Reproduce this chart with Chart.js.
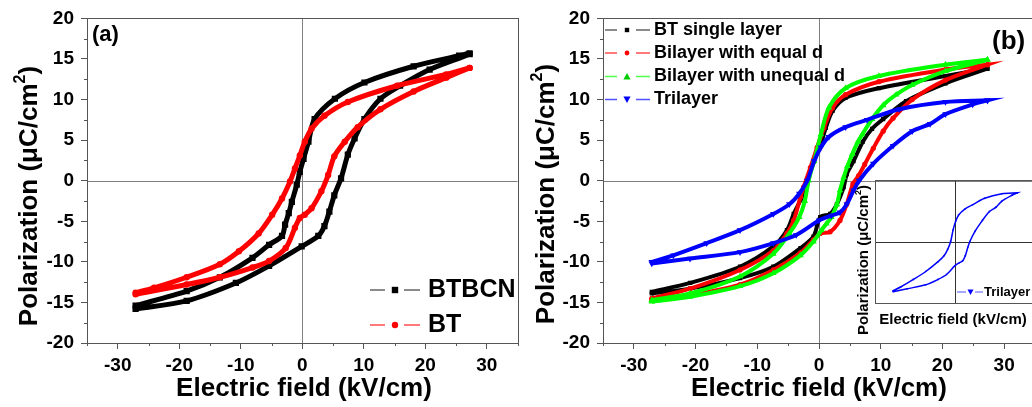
<!DOCTYPE html>
<html>
<head>
<meta charset="utf-8">
<title>Ciclos de polarización</title>
<script src="https://cdn.jsdelivr.net/npm/chart.js@4.4.0/dist/chart.umd.min.js"></script>
<style>
  html, body { margin: 0; padding: 0; background: #fff; overflow: hidden; }
  #hoja { position: relative; width: 1032px; height: 407px; overflow: hidden; }
  canvas { position: absolute; }
  #graficoA { left: 0; top: 0; }
  #graficoB { left: 522px; top: 0; }
  #inserto { left: 845px; top: 170px; }
</style>
</head>
<body>
<div id="hoja">
  <canvas id="graficoA" width="522" height="407"></canvas>
  <canvas id="graficoB" width="530" height="407"></canvas>
  <canvas id="inserto" width="200" height="180"></canvas>
</div>
<script>
// ================= DATOS =================
// cada ciclo: rama de subida (-Emax -> +Emax) y luego rama de bajada
// panel (a)
const btbcnE = [-27.1, -18.8, -10.8, -5.4, -0.1, 2.6, 3.6, 4.4, 5.2, 6.3, 7.4, 8.5, 10.1, 12.7, 15.9, 20.7, 27.2,
                27.2, 25.5, 18.1, 10.1, 5.3, 2.0, 1.0, 0.2, -0.4, -0.9, -1.7, -2.2, -2.8, -3.3, -5.4, -8.1, -13.4, -18.8, -27.1];
const btbcnP = [-15.8, -14.8, -12.6, -10.5, -8.1, -6.8, -5.6, -3.8, -1.8, 0.3, 3.2, 5.2, 7.6, 10.1, 11.7, 13.7, 15.6,
                15.7, 15.4, 14.1, 12.1, 10.1, 7.6, 4.8, 2.7, 1.1, -0.5, -2.6, -4.0, -5.4, -6.8, -7.9, -9.5, -11.9, -13.6, -15.4];

const btE = [-27.1, -18.8, -13.4, -8.1, -5.4, -2.7, -1.2, -0.4, 0.4, 1.5, 3.1, 4.2, 5.2, 6.9, 9.0, 12.7, 18.1, 23.4, 27.2,
             27.2, 23.4, 15.4, 7.4, 3.6, 1.5, 0.4, -0.4, -1.2, -2.0, -3.3, -4.9, -7.1, -10.3, -13.4, -18.8, -24.1, -27.1];
const btP = [-14.0, -12.8, -11.9, -10.7, -9.9, -8.3, -5.8, -4.6, -4.2, -3.4, -1.3, 0.7, 3.0, 4.8, 6.6, 8.8, 11.0, 12.7, 13.9,
             13.9, 13.1, 11.7, 9.7, 8.0, 6.4, 4.8, 3.1, 1.5, -0.1, -2.2, -4.2, -6.5, -8.7, -10.3, -11.9, -13.2, -13.8];

// panel (b)
const simpleE = [-27.1, -20.9, -12.8, -7.4, -3.0, -0.9, 0.2, 1.8, 2.9, 4.0, 4.5, 5.6, 7.1, 8.6, 10.4, 14.1, 20.5, 27.3,
                 27.3, 20.5, 9.7, 4.3, 2.2, 1.1, 0.3, -0.8, -1.6, -2.0, -3.0, -4.1, -5.2, -7.4, -12.8, -20.9, -27.1];
const simpleP = [-13.9, -13.3, -12.0, -10.6, -8.3, -6.9, -4.5, -4.1, -2.9, -0.8, 0.8, 2.4, 4.8, 6.4, 7.6, 9.8, 12.0, 13.8,
                 13.8, 12.9, 11.4, 10.2, 8.6, 6.5, 4.5, 2.4, 0.6, -0.8, -2.4, -4.1, -6.1, -8.1, -10.6, -12.6, -13.7];

const igualE = [-27.1, -20.9, -12.8, -7.4, -3.0, -0.9, 0.2, 1.8, 3.4, 4.5, 5.5, 6.4, 7.4, 8.8, 10.4, 12.0, 15.1, 20.5, 27.3,
                27.3, 20.5, 9.7, 4.3, 2.2, 0.8, -0.3, -1.4, -2.5, -3.0, -4.1, -5.2, -7.4, -12.8, -20.9, -27.1];
const igualP = [-14.7, -14.1, -12.8, -11.0, -8.9, -7.3, -6.5, -6.3, -4.9, -2.9, -0.4, 0.6, 2.0, 4.0, 6.1, 7.7, 10.0, 12.4, 14.3,
                14.3, 13.7, 12.2, 10.6, 9.0, 6.5, 4.1, 1.6, -0.8, -2.0, -4.9, -6.5, -8.6, -11.0, -13.3, -14.5];

const desigualE = [-27.1, -20.9, -12.8, -7.4, -3.0, -0.9, 0.4, 1.2, 2.0, 2.9, 3.4, 4.0, 4.6, 5.4, 6.3, 7.0, 8.6, 10.4, 12.5, 15.1, 20.5, 27.3,
                   27.3, 20.5, 9.7, 4.3, 1.6, 0.3, -0.8, -1.7, -2.3, -3.2, -4.8, -7.4, -12.8, -20.9, -27.1];
const desigualP = [-14.9, -14.3, -13.0, -11.4, -9.2, -7.5, -6.1, -5.3, -4.5, -2.9, -1.2, 0.4, 1.8, 3.3, 4.8, 5.7, 7.6, 9.3, 10.6, 11.8, 13.5, 14.9,
                   14.9, 14.3, 12.9, 11.4, 9.0, 5.7, 2.4, 0.0, -2.5, -4.5, -6.5, -9.0, -11.8, -13.9, -14.7];

const triE = [-27.1, -20.9, -12.8, -7.4, -3.7, 0.0, 2.0, 3.4, 4.5, 5.6, 6.5, 8.8, 12.0, 15.1, 18.0, 20.5, 24.9, 27.3,
              27.3, 20.5, 13.0, 7.8, 4.3, 1.6, 0.3, -0.8, -1.9, -3.2, -4.8, -7.4, -12.8, -18.2, -23.6, -27.1];
const triP = [-10.2, -9.6, -8.8, -7.7, -6.7, -4.9, -4.3, -3.9, -2.9, -1.2, 0.0, 2.1, 4.3, 6.1, 7.0, 8.2, 9.4, 9.9,
              9.9, 9.7, 8.8, 7.5, 6.6, 5.4, 4.1, 2.4, 0.0, -1.6, -2.9, -4.1, -6.1, -7.7, -9.2, -10.0];

const ejeXTicks = [-30, -20, -10, 0, 10, 20, 30];
const ejeXMenores = [-35, -25, -15, -5, 5, 15, 25, 35];
const ejeYTicks = [-20, -15, -10, -5, 0, 5, 10, 15, 20];
const ejeYMenores = [-17.5, -12.5, -7.5, -2.5, 2.5, 7.5, 12.5, 17.5];

const FUENTE = "'Liberation Sans', Arial, sans-serif";
const GRIS_EJE = "#555";

// ================= FUNCIONES UTILES =================
function puntos(E, P) {
  return E.map((e, i) => ({ x: e, y: P[i] }));
}

function marca(ctx, estilo, x, y, r) {
  ctx.beginPath();
  if (estilo === "rect") ctx.rect(x - r, y - r, 2 * r, 2 * r);
  else if (estilo === "circle") ctx.arc(x, y, r, 0, Math.PI * 2);
  else if (estilo === "up") { ctx.moveTo(x, y - r); ctx.lineTo(x + r, y + r * 0.8); ctx.lineTo(x - r, y + r * 0.8); ctx.closePath(); }
  else { ctx.moveTo(x, y + r); ctx.lineTo(x + r, y - r * 0.8); ctx.lineTo(x - r, y - r * 0.8); ctx.closePath(); }
  ctx.fill();
}

// titulo vertical con superindice en cm2
function tituloY(ctx, cx, cy, size) {
  const base = "Polarization (\u03bcC/cm", sup = "2", fin = ")";
  ctx.save();
  ctx.translate(cx, cy);
  ctx.rotate(-Math.PI / 2);
  ctx.fillStyle = "#000";
  ctx.textBaseline = "middle";
  ctx.textAlign = "left";
  const fb = "bold " + size + "px " + FUENTE, fs = "bold " + Math.round(size * 0.62) + "px " + FUENTE;
  ctx.font = fb; const w1 = ctx.measureText(base).width, w3 = ctx.measureText(fin).width;
  ctx.font = fs; const w2 = ctx.measureText(sup).width;
  let x = -(w1 + w2 + w3) / 2;
  ctx.font = fb; ctx.fillText(base, x, 0); x += w1;
  ctx.font = fs; ctx.fillText(sup, x, -size * 0.38); x += w2;
  ctx.font = fb; ctx.fillText(fin, x, 0);
  ctx.restore();
}

function texto(ctx, t, x, y, size, align) {
  ctx.save();
  ctx.fillStyle = "#000";
  ctx.font = "bold " + size + "px " + FUENTE;
  ctx.textBaseline = "middle";
  ctx.textAlign = align || "left";
  ctx.fillText(t, x, y);
  ctx.restore();
}

// plugin: lineas de cero, marco, ticks menores, titulos y leyenda
function decoracion(cfg) {
  return {
    id: "deco",
    beforeDatasetsDraw(chart) {
      const { ctx, chartArea: a, scales: { x, y } } = chart;
      ctx.save();
      ctx.lineWidth = 1;
      ctx.strokeStyle = cfg.cero;
      const x0 = Math.round(x.getPixelForValue(0)) + 0.5;
      const y0 = Math.round(y.getPixelForValue(0)) + 0.5;
      ctx.beginPath();
      ctx.moveTo(x0, a.top); ctx.lineTo(x0, a.bottom);
      ctx.moveTo(a.left, y0); ctx.lineTo(a.right, y0);
      ctx.stroke();
      ctx.strokeStyle = GRIS_EJE;
      ctx.strokeRect(Math.round(a.left) + 0.5, Math.round(a.top) + 0.5, Math.round(a.right - a.left), Math.round(a.bottom - a.top));
      if (cfg.menores) {
        ctx.beginPath();
        ejeXMenores.forEach(v => {
          const px = Math.round(x.getPixelForValue(v)) + 0.5;
          ctx.moveTo(px, a.bottom); ctx.lineTo(px, a.bottom + 3);
        });
        ejeYMenores.forEach(v => {
          const py = Math.round(y.getPixelForValue(v)) + 0.5;
          ctx.moveTo(a.left - 3, py); ctx.lineTo(a.left, py);
        });
        ctx.stroke();
      }
      ctx.restore();
    },
    afterDraw(chart) {
      const ctx = chart.ctx;
      tituloY(ctx, cfg.tituloY[0], cfg.tituloY[1], cfg.tamTitulo);
      texto(ctx, "Electric field (kV/cm)", cfg.tituloX[0], cfg.tituloX[1], cfg.tamTitulo, "center");
      if (cfg.etiqueta) texto(ctx, cfg.etiqueta.t, cfg.etiqueta.x, cfg.etiqueta.y, cfg.etiqueta.size);
      const L = cfg.leyenda;
      L.filas.forEach(f => {
        ctx.save();
        ctx.strokeStyle = f.linea;
        ctx.lineWidth = L.grosor;
        ctx.beginPath();
        ctx.moveTo(L.seg[0], f.y); ctx.lineTo(L.seg[1], f.y);
        ctx.moveTo(L.seg[2], f.y); ctx.lineTo(L.seg[3], f.y);
        ctx.stroke();
        ctx.fillStyle = f.color;
        marca(ctx, f.estilo, L.xm, f.y, f.r);
        ctx.restore();
        texto(ctx, f.t, L.xt, f.y, L.size);
      });
    }
  };
}

function escalas(anchoY, altoX, ymin, ymax, conTicks) {
  const marcaEje = {
    display: conTicks, drawOnChartArea: false, drawTicks: true, tickLength: 6, color: GRIS_EJE, lineWidth: 1
  };
  const fuenteTicks = { family: FUENTE, size: 19, weight: "bold" };
  return {
    x: {
      type: "linear", min: -35, max: 35,
      afterBuildTicks: s => { s.ticks = ejeXTicks.map(v => ({ value: v })); },
      afterFit: s => { s.height = altoX; },
      grid: marcaEje,
      border: { display: conTicks, color: GRIS_EJE, width: 1 },
      ticks: { display: conTicks, color: "#000", font: fuenteTicks, padding: 5, maxRotation: 0 }
    },
    y: {
      type: "linear", min: ymin, max: ymax,
      afterBuildTicks: s => { s.ticks = ejeYTicks.map(v => ({ value: v })); },
      afterFit: s => { s.width = anchoY; },
      grid: marcaEje,
      border: { display: conTicks, color: GRIS_EJE, width: 1 },
      ticks: { display: conTicks, color: "#000", font: fuenteTicks, padding: 7 }
    }
  };
}

function serie(etiqueta, E, P, color, estilo, radio, grosor, orden, rot) {
  return {
    label: etiqueta,
    data: puntos(E, P),
    showLine: true,
    borderColor: color,
    backgroundColor: color,
    borderWidth: grosor,
    tension: 0.3,
    pointStyle: estilo,
    pointRotation: rot || 0,
    pointRadius: radio,
    pointBorderWidth: 0,
    order: orden
  };
}

const base = {
  responsive: false,
  animation: false,
  events: [],
  plugins: { legend: { display: false }, tooltip: { enabled: false } }
};

// ================= PANEL (a) =================
new Chart(document.getElementById("graficoA").getContext("2d"), {
  type: "scatter",
  data: {
    datasets: [
      serie("BT", btE, btP, "#ff0000", "circle", 3.2, 5, 1),
      serie("BTBCN", btbcnE, btbcnP, "#000000", "rect", 4.4, 5, 2)
    ]
  },
  options: Object.assign({}, base, {
    layout: { padding: { top: 16, right: 1, left: 0, bottom: 0 } },
    scales: escalas(87, 64, -20, 20, true)
  }),
  plugins: [decoracion({
    cero: "#808080", menores: true, tamTitulo: 26,
    tituloY: [30, 196], tituloX: [304, 389],
    etiqueta: { t: "(a)", x: 92, y: 35, size: 22 },
    leyenda: {
      seg: [370, 385, 404, 420], xm: 395, xt: 428, size: 25, grosor: 1.5,
      filas: [
        { t: "BTBCN", color: "#000", linea: "#666", estilo: "rect", r: 3.2, y: 290 },
        { t: "BT", color: "#f00", linea: "#ff5050", estilo: "circle", r: 3.2, y: 325 }
      ]
    }
  })]
});

// ================= PANEL (b) =================
new Chart(document.getElementById("graficoB").getContext("2d"), {
  type: "scatter",
  data: {
    datasets: [
      serie("BT single layer", simpleE, simpleP, "#000000", "rect", 3, 4, 4),
      serie("Bilayer with equal d", igualE, igualP, "#ff0000", "circle", 2.6, 4, 3),
      serie("Bilayer with unequal d", desigualE, desigualP, "#00ff00", "triangle", 3.8, 4, 2),
      serie("Trilayer", triE, triP, "#0000ff", "triangle", 3.8, 4, 1, 180)
    ]
  },
  options: Object.assign({}, base, {
    layout: { padding: { top: 17, right: 17, left: 0, bottom: 0 } },
    scales: escalas(81, 64, -20, 20, true)
  }),
  plugins: [decoracion({
    cero: "#808080", menores: true, tamTitulo: 26,
    tituloY: [25, 194], tituloX: [297, 389],
    etiqueta: { t: "(b)", x: 470, y: 42, size: 26 },
    leyenda: {
      seg: [83, 95, 114, 128], xm: 105, xt: 132, size: 18, grosor: 1.5,
      filas: [
        { t: "BT single layer", color: "#000", linea: "#666", estilo: "rect", r: 2.2, y: 30 },
        { t: "Bilayer with equal d", color: "#f00", linea: "#ff5050", estilo: "circle", r: 2.4, y: 53 },
        { t: "Bilayer with unequal d", color: "#0c0", linea: "#50ff50", estilo: "up", r: 3.6, y: 76.5 },
        { t: "Trilayer", color: "#00f", linea: "#5050ff", estilo: "down", r: 3.6, y: 99.5 }
      ]
    }
  })]
});

// ================= INSERTO (trilayer) =================
new Chart(document.getElementById("inserto").getContext("2d"), {
  type: "scatter",
  data: {
    datasets: [serie("Trilayer", triE, triP, "#0000ff", "triangle", 1.3, 1.5, 1, 180)]
  },
  options: Object.assign({}, base, {
    layout: { padding: { top: 10, right: 10, left: 0, bottom: 0 } },
    scales: escalas(30, 47, -12.5, 12.5, false)
  }),
  plugins: [decoracion({
    cero: "#333", menores: false, tamTitulo: 15,
    tituloY: [19, 90], tituloX: [108, 150],
    leyenda: {
      seg: [112, 121, 130, 138], xm: 125.5, xt: 139, size: 13, grosor: 1,
      filas: [{ t: "Trilayer", color: "#00f", linea: "#5050ff", estilo: "down", r: 3, y: 122 }]
    }
  })]
});
</script>
</body>
</html>
